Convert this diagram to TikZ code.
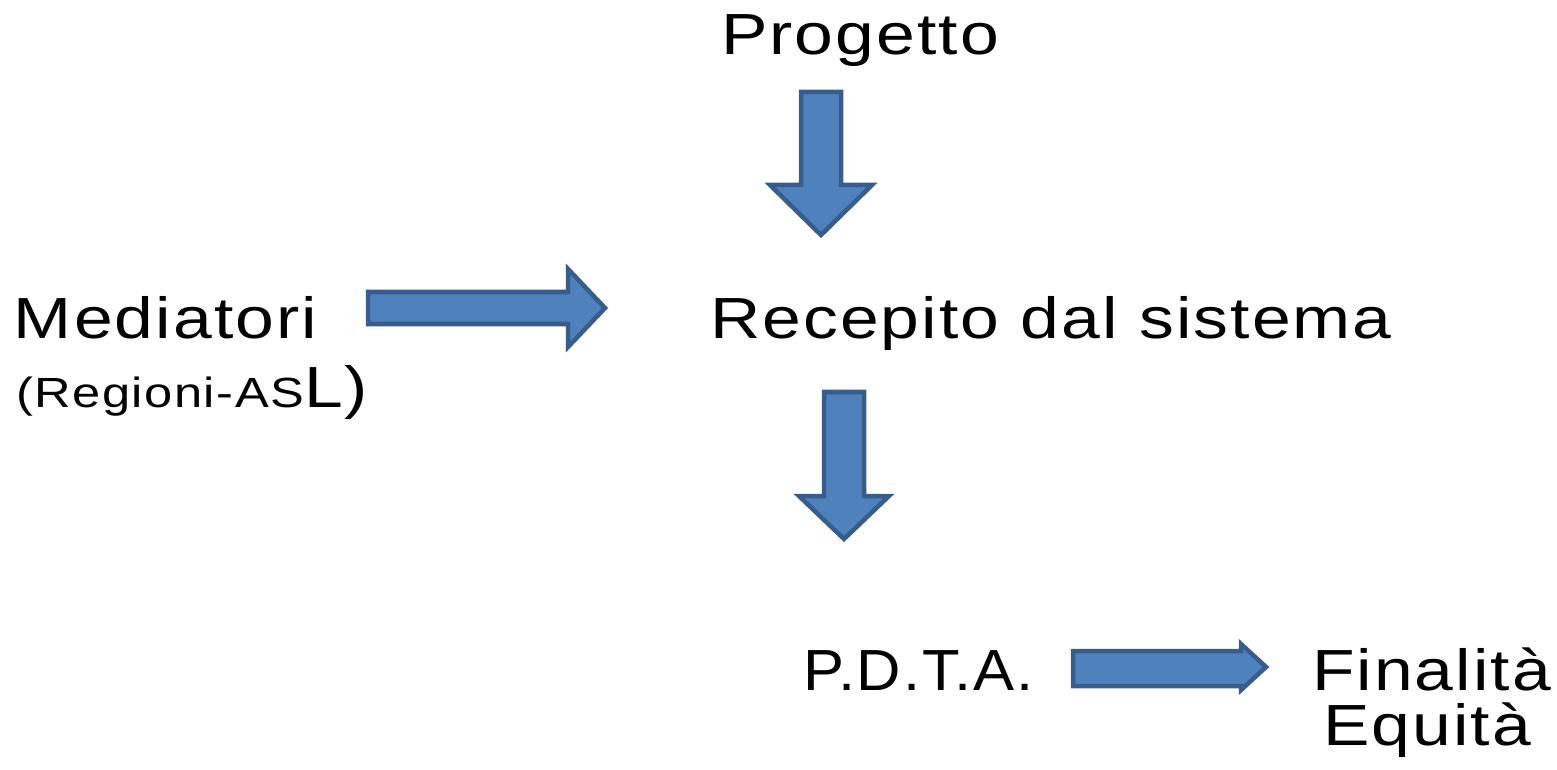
\documentclass[tikz,border=0pt]{standalone}
\usepackage{fontspec}
\setmainfont{Liberation Sans}[LetterSpace=3]
\definecolor{arrowfill}{HTML}{4F81BD}
\definecolor{arrowborder}{HTML}{385D8A}
\newcommand{\bigtext}{\fontsize{16.5pt}{20pt}\selectfont}
\newcommand{\smalltext}{\fontsize{12pt}{15pt}\selectfont}
\newcommand{\stretched}[2][1.2]{\scalebox{#1}[1]{#2}}
\begin{document}
\begin{tikzpicture}
    [
    x=0.01cm, y=-0.01cm,
    every node/.style={inner sep=0pt, outer sep=0pt},
    label/.style={font=\bigtext, anchor=base west},
    blockarrow/.style={draw=arrowborder, fill=arrowfill, line width=0.045cm, line join=miter}
    ]

% Frame
    \useasboundingbox (0,0) rectangle (1557,770);

% Labels
    \node[label] (progetto) at (721,55) {\stretched{Progetto}};
    \node[label] (mediatori) at (14,338) {\stretched{Mediatori}};
    \node[label] (regioni) at (16,407) {\stretched{{\smalltext (Regioni-AS}L)}};
    \node[label] (recepito) at (710,338) {\stretched{Recepito dal sistema}};
    \node[label] (pdta) at (803,690) {\stretched[1.06]{P.D.T.A.}};
    \node[label] (finalita) at (1312,690) {\stretched{Finalità}};
    \node[label] (equita) at (1323,745) {\stretched{Equità}};

% Block arrows
    \draw[blockarrow] (801,92) -- (841,92) -- (841,185) -- (872,185) -- (821,235) -- (770,185) -- (801,185) -- cycle;
    \draw[blockarrow] (824,392) -- (864,392) -- (864,496) -- (889,496) -- (844,539) -- (799,496) -- (824,496) -- cycle;
    \draw[blockarrow] (368,292) -- (568,292) -- (568,269) -- (605,308) -- (568,347) -- (568,324) -- (368,324) -- cycle;
    \draw[blockarrow] (1073,651) -- (1241,651) -- (1241,644) -- (1266,667) -- (1241,690) -- (1241,686) -- (1073,686) -- cycle;

\end{tikzpicture}
\end{document}
